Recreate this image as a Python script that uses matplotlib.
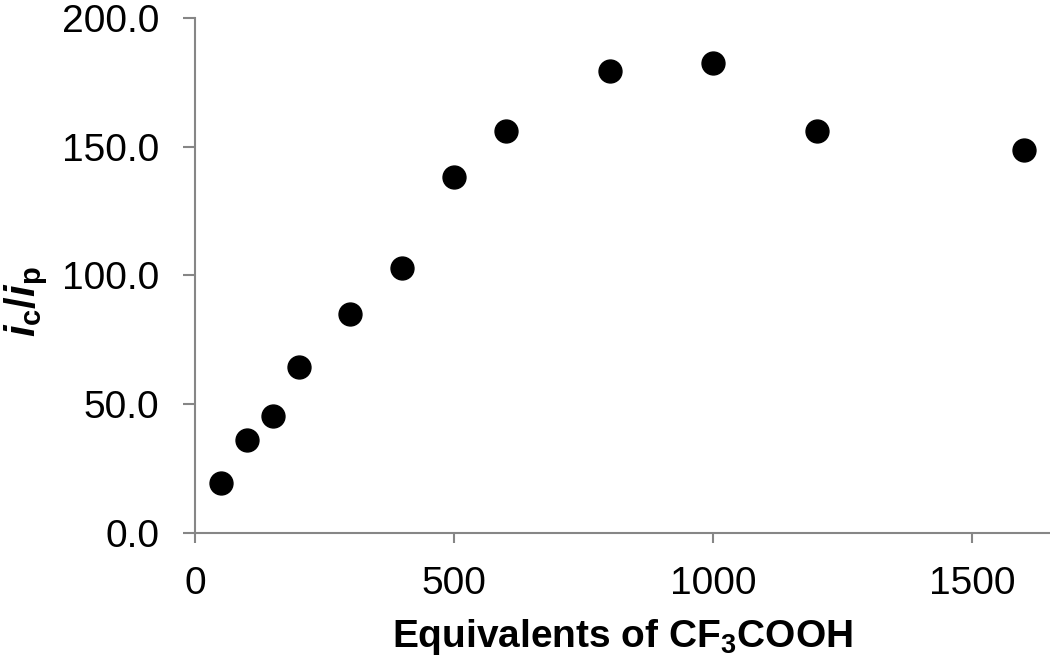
import matplotlib
matplotlib.use("Agg")
import matplotlib.pyplot as plt

# Data
equivalents = [50, 100, 150, 200, 300, 400, 500, 600, 800, 1000, 1200, 1600]
ic_ip = [19.6, 36.3, 45.4, 64.4, 85.2, 102.9, 138.4, 156.3, 179.6, 182.5, 156.3, 148.8]

x_ticks = [0, 500, 1000, 1500]
y_ticks = [0, 50, 100, 150, 200]

plt.rcParams['font.family'] = ['Liberation Sans', 'DejaVu Sans']
plt.rcParams['mathtext.fontset'] = 'custom'
plt.rcParams['mathtext.rm'] = 'Liberation Sans:bold'
plt.rcParams['mathtext.it'] = 'Liberation Sans:italic:bold'
plt.rcParams['mathtext.bf'] = 'Liberation Sans:bold'

fig = plt.figure(figsize=(10.5, 6.59), dpi=100)
ax = fig.add_axes([0.1857, 0.1912, 0.8143, 0.7815])

ax.plot(equivalents, ic_ip, 'o', color='black', markersize=16.5, clip_on=False)

ax.set_xlim(0, 1650)
ax.set_ylim(0, 200)
ax.set_xticks(x_ticks)
ax.set_yticks(y_ticks)
ax.set_yticklabels([f"{v:.1f}" for v in y_ticks])

axis_grey = '#868686'
for side in ['top', 'right']:
    ax.spines[side].set_visible(False)
for side in ['left', 'bottom']:
    ax.spines[side].set_color(axis_grey)
    ax.spines[side].set_linewidth(1.5)

ax.tick_params(axis='both', direction='out', width=1.5, color=axis_grey,
               labelsize=28, labelcolor='black')
ax.tick_params(axis='x', length=7.5, pad=16)
ax.tick_params(axis='y', length=8.5, pad=17)

ax.set_xlabel('Equivalents of CF$_3$COOH', fontsize=28, fontweight='bold')
ax.xaxis.set_label_coords(0.5, -0.163)
ax.set_ylabel(r'$i_\mathrm{c}/i_\mathrm{p}$', fontsize=30)
ax.yaxis.set_label_coords(-0.17, 0.45)

fig.savefig('out.png', dpi=100)
